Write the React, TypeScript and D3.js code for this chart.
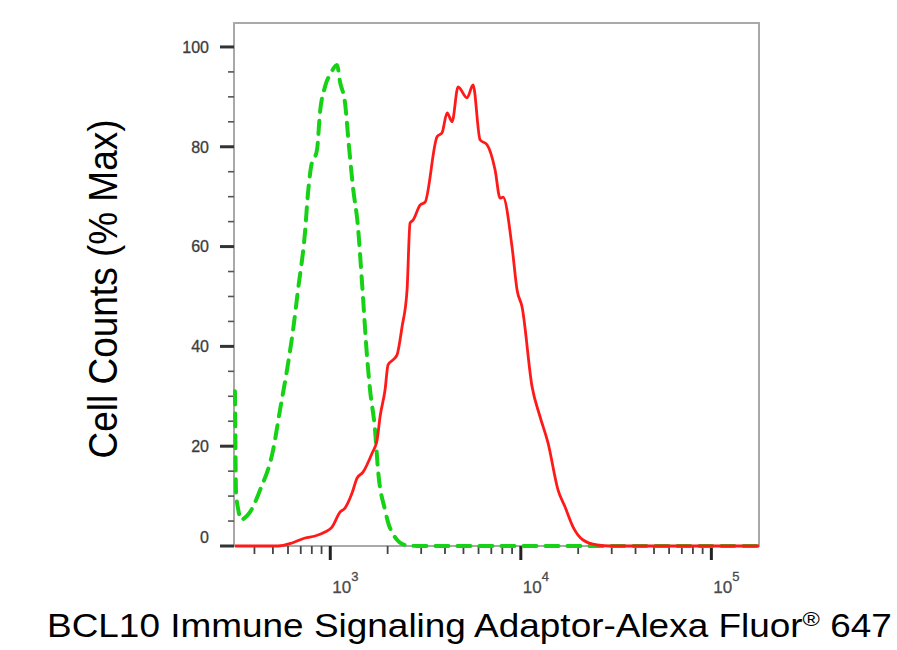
import * as d3 from 'd3';

// fluorescence intensity, % of max
const isotypeX = [316, 318, 320, 330, 341, 352, 379, 428, 501, 545, 593, 638, 677, 737, 764, 793, 852, 884, 938, 1009, 1085, 1125, 1195, 1254, 1316, 1398, 1468, 1560, 1617, 1718, 1781, 1939, 2059, 2469, 2888, 177800];
const isotypeY = [31, 20, 11, 7, 5.2, 5.5, 6.8, 11.2, 19.2, 27.3, 35.3, 43.3, 51.3, 62.9, 70.7, 76, 79.4, 87, 92, 94.8, 96.4, 93, 88.8, 80, 71.9, 63.9, 52.7, 37.9, 31.3, 23.2, 15.2, 7.2, 3.6, 0.2, 0, 0];

const sampleX = [316, 532, 630, 737, 832, 938, 1021, 1125, 1195, 1301, 1382, 1485, 1657, 1760, 1825, 1939, 2010, 2134, 2241, 2380, 2529, 2622, 2720, 2959, 3144, 3634, 3861, 4102, 4357, 4684, 5222, 5615, 6110, 6650, 7325, 7785, 8070, 8997, 9557, 10153, 11458, 12618, 13900, 15686, 17075, 18810, 21220, 25137, 29420, 177800];
const sampleY = [0, 0, 0.6, 1.6, 2.0, 2.8, 3.8, 6.8, 7.6, 10.6, 13.6, 14.8, 18.6, 21.2, 25.9, 31.3, 36.3, 37.3, 38.3, 43.9, 51.3, 64.7, 65.3, 68.3, 68.9, 82.0, 82.8, 86.8, 85.0, 92.0, 89.8, 92.4, 81.4, 80.4, 75.4, 69.7, 69.9, 59.9, 51.3, 47.9, 31.9, 25.9, 20.6, 11.2, 7.8, 3.8, 1.2, 0.2, 0, 0];

const yMajor = [0, 20, 40, 60, 80, 100];
const yMinor = [5, 10, 15, 25, 30, 35, 45, 50, 55, 65, 70, 75, 85, 90, 95];
const xDecades = [3, 4, 5];
const xMinor = [400, 500, 600, 700, 800, 900, 2000, 3000, 4000, 5000, 6000, 7000, 8000, 9000, 20000, 30000, 40000, 50000, 60000, 70000, 80000, 90000];

const FONT = '"Liberation Sans", Arial, Helvetica, sans-serif';

export default function App() {
  const left = 235, right = 759, top = 23, bottom = 546;

  const x = d3.scaleLog().domain([10 ** 2.5, 10 ** 5.25]).range([left, right]);
  const y = d3.scaleLinear().domain([0, 104.8]).range([bottom, top]);

  const line = d3
    .line<[number, number]>()
    .x((d) => x(d[0]))
    .y((d) => y(d[1]))
    .curve(d3.curveMonotoneX);

  const isotype = isotypeX.map((v, i) => [v, isotypeY[i]] as [number, number]);
  const sample = sampleX.map((v, i) => [v, sampleY[i]] as [number, number]);

  return (
    <svg
      width={897}
      height={650}
      style={{ position: 'absolute', left: 0, top: 0, background: '#fff' }}
      fontFamily={FONT}
    >
      <defs>
        <clipPath id="plot">
          <rect x={left - 2} y={top} width={right - left + 2} height={bottom - top + 2} />
        </clipPath>
      </defs>

      {/* frame */}
      <path
        d={`M${left - 1},${bottom} V${top} H${right} V${bottom} H${left - 1}`}
        fill="none"
        stroke="#a9a9a9"
        strokeWidth={2}
      />

      {/* y ticks */}
      {yMinor.map((v) => (
        <line key={'ym' + v} x1={left - 7} x2={left - 1} y1={y(v)} y2={y(v)} stroke="#555" strokeWidth={1.6} />
      ))}
      {yMajor.map((v) => (
        <line key={'yM' + v} x1={left - 15} x2={left - 1} y1={y(v)} y2={y(v)} stroke="#333" strokeWidth={3} />
      ))}
      {yMajor.map((v) => (
        <text
          key={'yl' + v}
          x={209}
          y={v === 0 ? y(v) - 9 : y(v)}
          dy="0.36em"
          textAnchor="end"
          fontSize={16}
          fill="#3c3c3c"
          stroke="#3c3c3c"
          strokeWidth={0.3}
        >
          {v}
        </text>
      ))}

      {/* x ticks */}
      {xMinor.map((v) => (
        <line key={'xm' + v} x1={x(v)} x2={x(v)} y1={bottom} y2={bottom + 8} stroke="#444" strokeWidth={1.8} />
      ))}
      {xDecades.map((p) => (
        <line key={'xM' + p} x1={x(10 ** p)} x2={x(10 ** p)} y1={bottom} y2={bottom + 14} stroke="#222" strokeWidth={3} />
      ))}
      {xDecades.map((p) => (
        <text
          key={'xl' + p}
          x={x(10 ** p) + 2}
          y={593}
          fontSize={17}
          fill="#4a4a4a"
          stroke="#4a4a4a"
          strokeWidth={0.3}
        >
          10
          <tspan dy={-12} fontSize={13}>
            {p}
          </tspan>
        </text>
      ))}

      {/* histograms */}
      <g clipPath="url(#plot)">
        <path
          d={line(isotype) ?? ''}
          fill="none"
          stroke="#17d117"
          strokeWidth={4}
          strokeDasharray="13,9"
          strokeLinecap="round"
        />
        <path d={line(sample) ?? ''} fill="none" stroke="#ff1a1a" strokeWidth={2.8} strokeLinejoin="round" />
      </g>

      {/* axis titles */}
      <text
        transform="translate(117,289) scale(1.1,1) rotate(-90)"
        textAnchor="middle"
        fontSize={37}
        fill="#000"
      >
        Cell Counts (% Max)
      </text>
      <text transform="translate(47,637) scale(1.12,1)" fontSize={33} fill="#000">
        BCL10 Immune Signaling Adaptor-Alexa Fluor
        <tspan fontSize={21} dy={-11}>
          ®
        </tspan>
        <tspan dy={11}> 647</tspan>
      </text>
    </svg>
  );
}
